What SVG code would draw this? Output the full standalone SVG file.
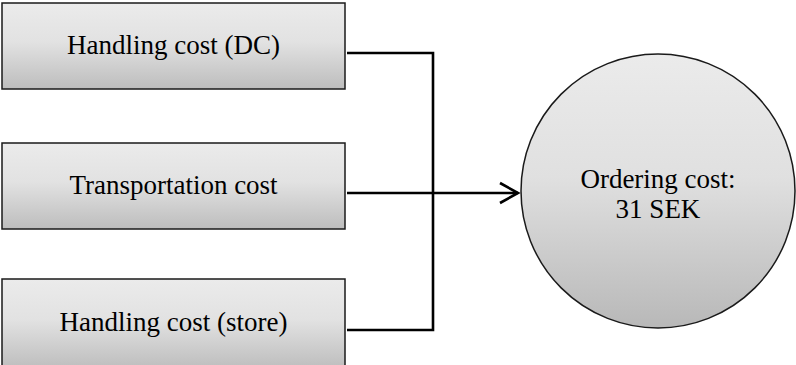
<svg xmlns="http://www.w3.org/2000/svg" width="796" height="365" viewBox="0 0 796 365">
  <defs>
    <linearGradient id="boxFill" x1="0" y1="0" x2="0" y2="1">
      <stop offset="0" stop-color="#ebebeb"/>
      <stop offset="0.45" stop-color="#e2e2e2"/>
      <stop offset="1" stop-color="#bdbdbd"/>
    </linearGradient>
    <linearGradient id="circleFill" x1="0" y1="0" x2="0" y2="1">
      <stop offset="0" stop-color="#ebebeb"/>
      <stop offset="0.45" stop-color="#e0e0e0"/>
      <stop offset="1" stop-color="#b8b8b8"/>
    </linearGradient>
    <marker id="chevron" markerUnits="userSpaceOnUse" markerWidth="24" markerHeight="26" refX="20" refY="12" orient="auto" overflow="visible">
      <polyline points="2,2 20,12 2,22" fill="none" stroke="#000" stroke-width="2.6" stroke-linejoin="miter"/>
    </marker>
  </defs>
  <style>
    .box { fill: url(#boxFill); stroke: #1a1a1a; stroke-width: 1.5; }
    .circ { fill: url(#circleFill); stroke: #1a1a1a; stroke-width: 1.5; }
    .lbl { font-family: "Liberation Serif", "Times New Roman", serif; font-size: 27px; fill: #000; text-anchor: middle; }
    .wire { fill: none; stroke: #000; stroke-width: 2.6; }
  </style>

  <g id="handling-dc">
    <rect class="box" x="2" y="3" width="343" height="86"/>
    <text class="lbl" x="173.5" y="54">Handling cost (DC)</text>
  </g>

  <g id="transportation">
    <rect class="box" x="2" y="143" width="343" height="86"/>
    <text class="lbl" x="173.5" y="194">Transportation cost</text>
  </g>

  <g id="handling-store">
    <rect class="box" x="2" y="279" width="343" height="90"/>
    <text class="lbl" x="173.5" y="331">Handling cost (store)</text>
  </g>

  <g id="ordering-cost">
    <circle class="circ" cx="658" cy="191" r="137"/>
    <text class="lbl" x="658" y="188">Ordering cost:</text>
    <text class="lbl" x="658" y="218">31 SEK</text>
  </g>

  <g id="connectors">
    <polyline class="wire" points="347,53 433,53 433,330 347,330"/>
    <line class="wire" x1="347" y1="193" x2="518" y2="193" marker-end="url(#chevron)"/>
  </g>
</svg>
